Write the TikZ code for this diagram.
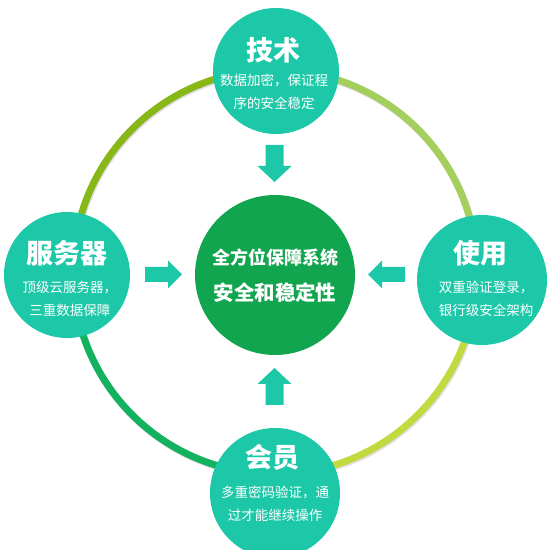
\documentclass[tikz,border=0pt]{standalone}
\usepackage{fontspec}
\setmainfont{Noto Sans CJK SC}
\definecolor{teal1}{HTML}{1DC8A9}
\definecolor{cgreen}{HTML}{10A54E}
\definecolor{ringTL}{HTML}{88B817}
\definecolor{ringTR}{HTML}{A4CF5C}
\definecolor{ringBR}{HTML}{C2DA3F}
\definecolor{ringBL}{HTML}{12B25E}
\definecolor{ringshadow}{HTML}{E4DDEA}
\tikzset{
  sat/.style={circle,fill=teal1,minimum size=#1,inner sep=0pt},
  ttl/.style={text=white,font=\fontsize{27}{29}\selectfont\bfseries,inner sep=0pt},
  body/.style={text=white,font=\fontsize{13.5}{23}\selectfont,align=center,inner sep=0pt},
  ctext/.style={text=white,font=\bfseries,inner sep=0pt},
  ringseg/.style={line width=7pt},
  arr/.style={fill=teal1}
}
\begin{document}
\begin{tikzpicture}[x=1pt,y=1pt]
\useasboundingbox (0,0) rectangle (550,550);
\clip (0,0) rectangle (550,550);
\fill[white] (0,0) rectangle (550,550);
\coordinate (rc) at (275,278);
% ring shadow
\draw[draw=ringshadow,line width=7pt] ([shift={(1,-1.5)}]rc) circle[radius=202];
% ring quadrants
\draw[ringseg,ringTL] (rc) ++(90:202) arc[start angle=90,end angle=180,radius=202];
\draw[ringseg,ringTR] (rc) ++(0:202) arc[start angle=0,end angle=90,radius=202];
\draw[ringseg,ringBR] (rc) ++(270:202) arc[start angle=270,end angle=360,radius=202];
\draw[ringseg,ringBL] (rc) ++(180:202) arc[start angle=180,end angle=270,radius=202];
% satellites
\node[sat=126pt] (top) at (276,479) {};
\node[sat=126pt] (left) at (67,275) {};
\node[sat=130pt] (right) at (482,270) {};
\node[sat=130pt] (bottom) at (275,57) {};
% center
\node[circle,fill=cgreen,minimum size=160pt,inner sep=0pt] (center) at (275,275) {};
% texts
\node[ttl] (topt) at (273,500) {技术};
\node[body] (topb) at (274,458) {数据加密，保证程\\序的安全稳定};
\node[ttl] (leftt) at (67,297) {服务器};
\node[body] (leftb) at (70,251) {顶级云服务器，\\三重数据保障};
\node[ttl] (rightt) at (480,297) {使用};
\node[body] (rightb) at (486,251) {双重验证登录，\\银行级安全架构};
\node[ttl] (bott) at (272,93) {会员};
\node[body] (botb) at (275,46) {多重密码验证，通\\过才能继续操作};
\node[ctext,font=\fontsize{18}{20}\selectfont\bfseries] (c1) at (275,292) {全方位保障系统};
\node[ctext,font=\fontsize{20.5}{22}\selectfont\bfseries] (c2) at (275,257) {安全和稳定性};
% arrows
\fill[arr] (145,268) -- (168,268) -- (168,261.5) -- (182,275.5) -- (168,289.5) -- (168,283) -- (145,283) -- cycle;
\fill[arr] (405,268) -- (382,268) -- (382,261.5) -- (368,275.5) -- (382,289.5) -- (382,283) -- (405,283) -- cycle;
\fill[arr] (265.5,405) -- (283.5,405) -- (283.5,384) -- (291.5,384) -- (274.5,368) -- (257.5,384) -- (265.5,384) -- cycle;
\fill[arr] (265.5,145) -- (283.5,145) -- (283.5,166) -- (291.5,166) -- (274.5,182) -- (257.5,166) -- (265.5,166) -- cycle;
\end{tikzpicture}
\end{document}
